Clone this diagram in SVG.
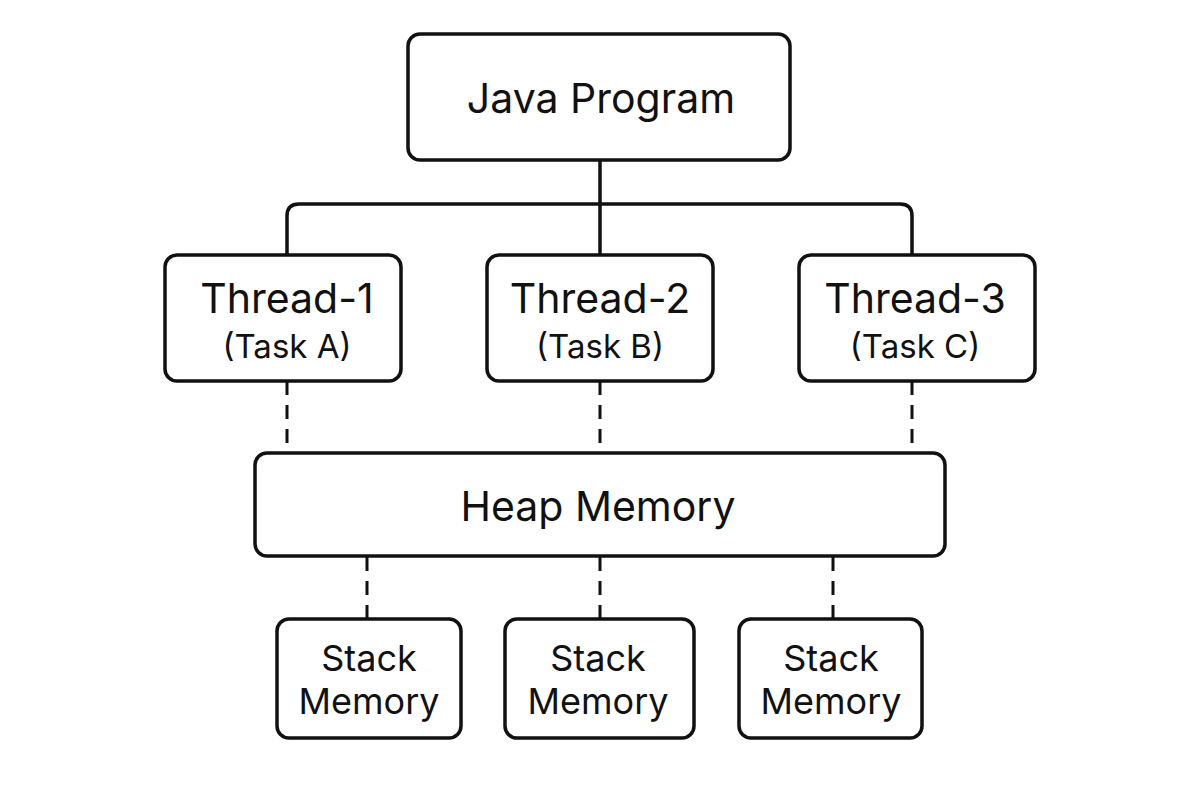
<svg xmlns="http://www.w3.org/2000/svg" width="1200" height="800" viewBox="0 0 1200 800">
<style>
.box{fill:#fff;stroke:#111;stroke-width:3.5}
.ln{fill:none;stroke:#111;stroke-width:3.5}
.dash{fill:none;stroke:#111;stroke-width:3;stroke-dasharray:14 10}
text{font-family:Inter,"Liberation Sans",sans-serif;fill:#111;text-anchor:middle}
.t1{font-size:41px}
.t2{font-size:33px}
.t3{font-size:36px}
</style>
<rect width="1200" height="800" fill="#fff"/>
<g id="connectors">
<path class="ln" d="M600 160 V255"/>
<path class="ln" d="M287 255 V216 Q287 204 299 204 H900 Q912 204 912 216 V255"/>
<path class="dash" d="M287 381 V453"/>
<path class="dash" d="M600 381 V453"/>
<path class="dash" d="M912 381 V453"/>
<path class="dash" d="M367 557 V618"/>
<path class="dash" d="M600 557 V618"/>
<path class="dash" d="M833 557 V618"/>
</g>
<g id="java-program">
<rect class="box" x="408" y="34" width="382" height="126" rx="12"/>
<text class="t1" x="601" y="113">Java Program</text>
</g>
<g id="thread-1">
<rect class="box" x="165" y="255" width="236" height="126" rx="12"/>
<text class="t1" x="287" y="313">Thread-1</text>
<text class="t2" x="287" y="358">(Task A)</text>
</g>
<g id="thread-2">
<rect class="box" x="487" y="255" width="226" height="126" rx="12"/>
<text class="t1" x="600" y="313">Thread-2</text>
<text class="t2" x="600" y="358">(Task B)</text>
</g>
<g id="thread-3">
<rect class="box" x="799" y="255" width="236" height="126" rx="12"/>
<text class="t1" x="915" y="313">Thread-3</text>
<text class="t2" x="915" y="358">(Task C)</text>
</g>
<g id="heap-memory">
<rect class="box" x="255" y="453" width="690" height="103" rx="12"/>
<text class="t1" x="598" y="521">Heap Memory</text>
</g>
<g id="stack-1">
<rect class="box" x="277" y="619" width="184" height="119" rx="12"/>
<text class="t3" x="369" y="671">Stack</text>
<text class="t3" x="369" y="714">Memory</text>
</g>
<g id="stack-2">
<rect class="box" x="505" y="619" width="189" height="119" rx="12"/>
<text class="t3" x="598" y="671">Stack</text>
<text class="t3" x="598" y="714">Memory</text>
</g>
<g id="stack-3">
<rect class="box" x="739" y="619" width="183" height="119" rx="12"/>
<text class="t3" x="831" y="671">Stack</text>
<text class="t3" x="831" y="714">Memory</text>
</g>
</svg>
